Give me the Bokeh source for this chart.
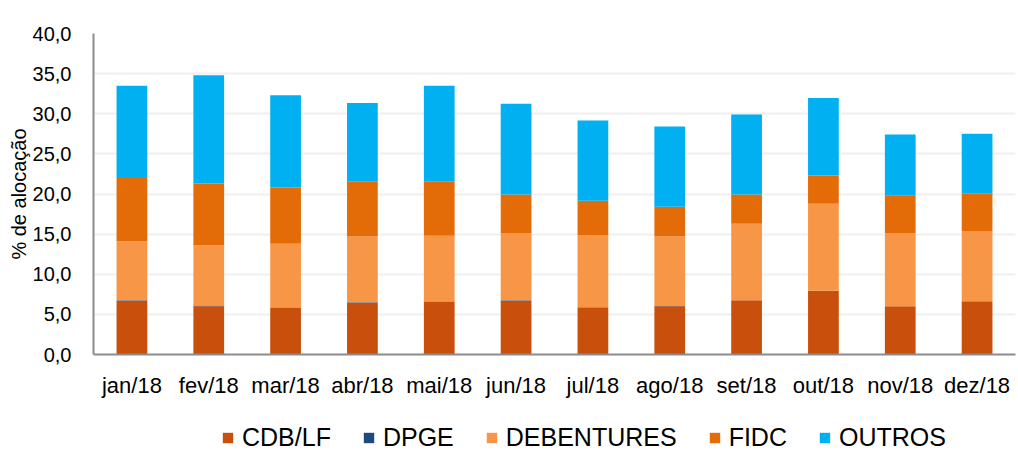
from bokeh.plotting import figure
from bokeh.layouts import column
from bokeh.models import ColumnDataSource, Legend, LegendItem, CustomJSTickFormatter, FixedTicker, Range1d
from bokeh.embed import file_html
from bokeh.resources import INLINE

months = ["jan/18", "fev/18", "mar/18", "abr/18", "mai/18", "jun/18",
          "jul/18", "ago/18", "set/18", "out/18", "nov/18", "dez/18"]
cdb = [6.7, 6.0, 5.8, 6.45, 6.55, 6.7, 5.9, 6.0, 6.75, 7.95, 6.0, 6.65]
dpge = [0.05, 0.1, 0.05, 0.05, 0.05, 0.05, 0.0, 0.05, 0.0, 0.0, 0.0, 0.0]
debentures = [7.35, 7.5, 7.95, 8.2, 8.2, 8.4, 9.0, 8.65, 9.55, 10.85, 9.15, 8.75]
fidc = [7.9, 7.7, 7.0, 6.9, 6.8, 4.8, 4.25, 3.7, 3.65, 3.5, 4.7, 4.7]
outros = [11.5, 13.5, 11.5, 9.75, 11.9, 11.3, 10.0, 10.0, 9.95, 9.65, 7.55, 7.4]

series = ["CDB/LF", "DPGE", "DEBENTURES", "FIDC", "OUTROS"]
colors = ["#C84F0C", "#1F4A7E", "#F79646", "#E36C09", "#00B0F0"]

source = ColumnDataSource(dict(month=months, cdb=cdb, dpge=dpge, deb=debentures,
                               fidc=fidc, outros=outros))
keys = ["cdb", "dpge", "deb", "fidc", "outros"]

FONT = "Liberation Sans"

p = figure(x_range=months, y_range=Range1d(0, 40), width=1018, height=400,
           output_backend="svg", toolbar_location=None,
           min_border_left=93, min_border_right=3, min_border_top=33, min_border_bottom=45)
p.outline_line_color = None

renderers = p.vbar_stack(keys, x="month", width=0.4, color=colors, line_color=None,
                         source=source)

p.x_range.range_padding = 0

p.yaxis.ticker = FixedTicker(ticks=[0, 5, 10, 15, 20, 25, 30, 35, 40])
p.yaxis.formatter = CustomJSTickFormatter(code="return tick.toFixed(1).replace('.', ',');")
p.yaxis.major_label_text_font = FONT
p.yaxis.major_label_text_font_size = "20px"
p.yaxis.major_label_text_color = "#000000"
p.yaxis.major_label_standoff = 16
p.yaxis.axis_line_color = "#8C8C8C"
p.yaxis.axis_line_width = 2
p.yaxis.major_tick_line_color = None
p.yaxis.minor_tick_line_color = None
p.yaxis.axis_label = "% de alocação"
p.yaxis.axis_label_text_font = FONT
p.yaxis.axis_label_text_font_style = "normal"
p.yaxis.axis_label_text_font_size = "20px"
p.yaxis.axis_label_text_color = "#000000"
p.yaxis.axis_label_standoff = 0

p.xaxis.major_label_text_font = FONT
p.xaxis.major_label_text_font_size = "22px"
p.xaxis.major_label_text_color = "#000000"
p.xaxis.major_label_standoff = 12
p.xaxis.axis_line_color = "#8C8C8C"
p.xaxis.axis_line_width = 2
p.xaxis.major_tick_line_color = None
p.xaxis.minor_tick_line_color = None

p.xgrid.grid_line_color = None
p.ygrid.grid_line_color = "#EFEFEF"
p.ygrid.grid_line_width = 2

# Legend strip below the chart
lg = figure(x_range=months, y_range=Range1d(1000, 1001), width=1018, height=50,
            output_backend="svg", toolbar_location=None,
            min_border_left=0, min_border_right=0, min_border_top=0, min_border_bottom=0)
lg.outline_line_color = None
lg.axis.visible = False
lg.grid.visible = False
lg_renderers = lg.vbar_stack(keys, x="month", width=0.4, color=colors, line_color=None,
                             source=source)

items = [LegendItem(label=s, renderers=[r]) for s, r in zip(series, lg_renderers)]
legend = Legend(items=items, orientation="horizontal", location=(128, -2),
                label_text_font=FONT, label_text_font_size="25px",
                label_text_color="#000000", glyph_width=13, glyph_height=13,
                label_standoff=8, spacing=31, border_line_color=None,
                background_fill_alpha=0, padding=0, margin=0)
lg.add_layout(legend, "center")

layout = column(p, lg, spacing=0)
open("out.html", "w").write(file_html(layout, INLINE))
